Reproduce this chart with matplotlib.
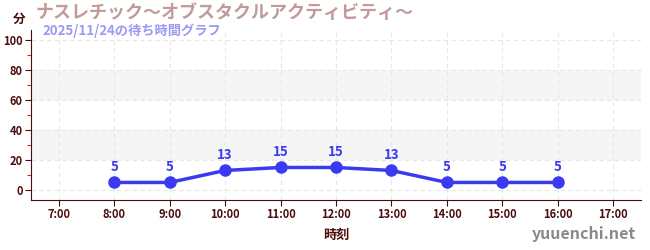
import matplotlib
matplotlib.use("Agg")
import matplotlib.pyplot as plt
from matplotlib.ticker import MultipleLocator

plt.rcParams['font.family'] = ['Noto Sans CJK JP', 'DejaVu Sans']

# data
hours = [8, 9, 10, 11, 12, 13, 14, 15, 16]
waits = [5, 5, 13, 15, 15, 13, 5, 5, 5]
tick_hours = list(range(7, 18))
tick_labels = ["%d:00" % h for h in tick_hours]
bands = [(20, 40), (60, 80)]

title = "ナスレチック〜オブスタクルアクティビティ〜"
subtitle = "2025/11/24の待ち時間グラフ"

dark = "#4a0c0c"
blue = "#3a3af0"

fig = plt.figure(figsize=(6.5, 2.5), dpi=100)
ax = fig.add_axes([31 / 650, 50 / 250, 610 / 650, 170 / 250])

for lo, hi in bands:
    ax.axhspan(lo, hi, color="#f5f5f5", zorder=0, lw=0)

ax.plot(hours, waits, color=blue, lw=2.5, marker="o", ms=8, zorder=3)
for h, w in zip(hours, waits):
    ax.annotate(str(w), (h, w), xytext=(0, 6), textcoords="offset points",
                ha="center", va="bottom", color=blue, fontsize=9.5, fontweight="bold")

ax.set_xlim(6.5, 17.5)
ax.set_ylim(-6.7, 106.7)
ax.set_xticks(tick_hours)
ax.set_xticklabels(tick_labels)
ax.yaxis.set_major_locator(MultipleLocator(20))
ax.yaxis.set_minor_locator(MultipleLocator(10))
ax.grid(True, which="major", color="#e6e6e6", ls=(0, (4, 3)), lw=0.8)
ax.set_axisbelow(True)

for s in ["top", "right"]:
    ax.spines[s].set_visible(False)
ax.spines["left"].set_color(dark)
ax.spines["bottom"].set_color(dark)

ax.tick_params(axis="both", which="major", colors=dark, labelsize=8, length=4, width=0.8, pad=2)
ax.tick_params(axis="y", which="minor", colors="#dd2222", length=3, width=0.8)
for lab in ax.get_xticklabels() + ax.get_yticklabels():
    lab.set_fontweight("bold")

ax.set_xlabel("時刻", color=dark, fontsize=9.5, fontweight="bold", labelpad=5)

fig.text(13 / 650, 1 - 19 / 250, "分", color=dark, fontsize=9, fontweight="bold", va="center")
fig.text(35 / 650, 1 - 13 / 250, title, color="#c39a9a", fontsize=13, fontweight="bold", va="center")
fig.text(42 / 650, 1 - 31 / 250, subtitle, color="#9a9af0", fontsize=9.5, fontweight="bold", va="center")
fig.text(636 / 650, 1 - 234 / 250, "yuuenchi.net", color="#8a8a8a", fontsize=11.5, fontweight="bold",
         ha="right", va="center")

fig.savefig("out.png", dpi=100)
